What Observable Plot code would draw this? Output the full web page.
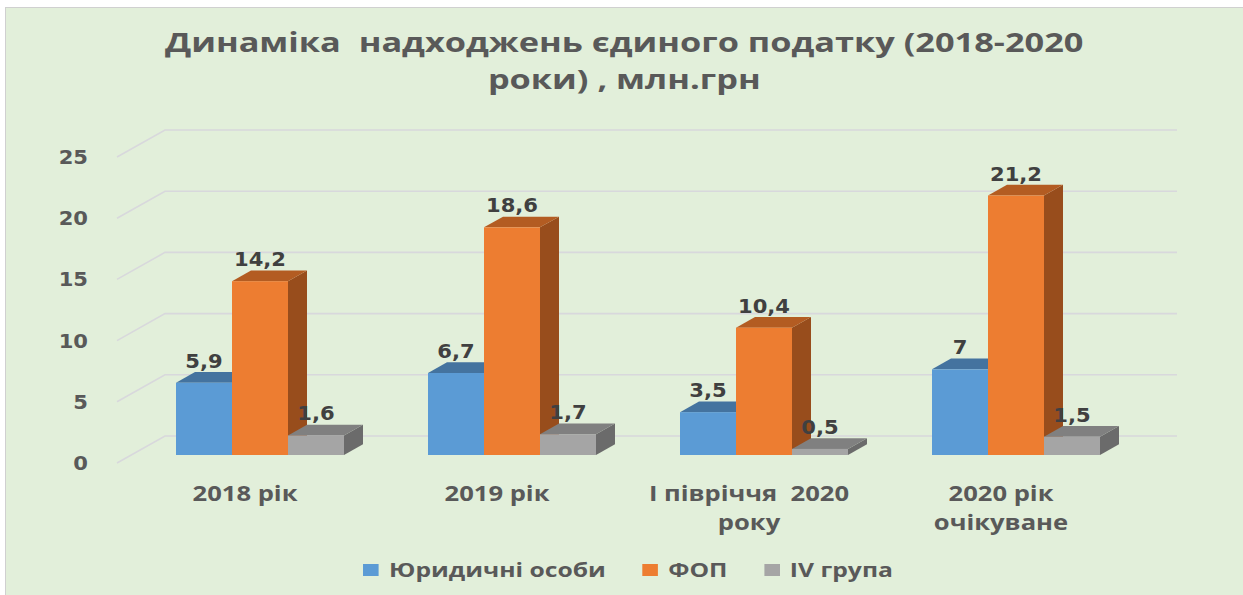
<!DOCTYPE html>
<html>
<head>
<meta charset="utf-8">
<script src="https://cdn.jsdelivr.net/npm/d3@7"></script>
<script src="https://cdn.jsdelivr.net/npm/@observablehq/plot@0.6"></script>
<style>
  html, body { margin: 0; padding: 0; }
  body { background: #ffffff; width: 1243px; height: 595px; overflow: hidden; position: relative; font-family: "Open Sans", sans-serif; }
  #frame { position: absolute; left: 5px; top: 7px; width: 1260px; height: 620px; background: #e2efda; border-left: 1.5px solid #d0d0d0; border-top: 1.5px solid #d0d0d0; }
  #title { position: absolute; left: 3px; top: 23px; width: 1243px; text-align: center; font-weight: 700; font-size: 27px; line-height: 37px; color: #595959; }
  #title span { display: inline-block; white-space: pre; transform-origin: center; }
  #chart { position: absolute; left: 0; top: 110px; }
  #legend { position: absolute; left: 6px; top: 560px; width: 1243px; text-align: center; font-weight: 700; font-size: 19px; line-height: 18px; color: #595959; }
  #legend .inner { display: inline-flex; align-items: center; white-space: nowrap; transform-origin: center; }
  #legend .sw { display: inline-block; width: 12px; height: 12px; margin-right: 8px; }
  #legend .item { display: inline-flex; align-items: center; margin-right: 28px; }
  #legend .item:last-child { margin-right: 0; }
</style>
</head>
<body>
<div id="frame"></div>
<div id="title"></div>
<div id="chart"></div>
<div id="legend"></div>
<script>
// ---------- data ----------
const categories = ["2018 рік", "2019 рік", "І півріччя 2020 року", "2020 рік очікуване"];
const categoryLines = [["2018 рік"], ["2019 рік"], ["І півріччя  2020", "року"], ["2020 рік", "очікуване"]];
const series = ["Юридичні особи", "ФОП", "IV група"];
const legalEntities = [5.9, 6.7, 3.5, 7];
const fop = [14.2, 18.6, 10.4, 21.2];
const groupIV = [1.6, 1.7, 0.5, 1.5];
const yTicks = [0, 5, 10, 15, 20, 25];
const titleLines = ["Динаміка  надходжень єдиного податку (2018-2020", "роки) , млн.грн"];

// ---------- styles ----------
const frontColors = ["#5b9bd5", "#ed7d31", "#a5a5a5"];
const topColors = ["#44739f", "#b35c22", "#808080"];
const sideColors = ["#3d6a94", "#984d1c", "#6b6b6b"];
const DX = 19, DY = 10.7;           // bar depth (oblique projection)
const FRONT_DX = -16, FRONT_DY = 8; // front plane offset from bar plane
const BACK_DX = 32, BACK_DY = -19;  // back plane offset from bar plane

const seriesValues = [legalEntities, fop, groupIV];
const rows = [];
categories.forEach((c, i) => {
  seriesValues.forEach((vals, j) => {
    rows.push({category: c, series: series[j], j, value: vals[i], label: String(vals[i]).replace(".", ",")});
  });
});

// ---------- text measurement for horizontal stretch ----------
const ctx = document.createElement("canvas").getContext("2d");
function textWidth(t, font) { ctx.font = font; return ctx.measureText(t).width; }
const kSans = 105 / textWidth("2018 рік", "bold 21px 'Open Sans'");
const kMono = 52 / textWidth("14,2", "bold 19px 'DejaVu Sans'");

function addText(g, x, y, text, {size, family, fill, anchor = "middle", k = 1}) {
  g.append("text")
    .attr("transform", `translate(${x},${y}) scale(${k},1)`)
    .attr("text-anchor", anchor)
    .attr("font-family", family)
    .attr("font-weight", 700)
    .attr("font-size", size)
    .attr("fill", fill)
    .text(text);
}

function renderGrid(index, scales) {
  const {x, y} = scales;
  const [r0, r1] = x.range();
  const g = d3.create("svg:g");
  for (const i of index) {
    const v = yTicks[i];
    const yy = y(v);
    g.append("path")
      .attr("d", `M${r0 + FRONT_DX},${yy + FRONT_DY}L${r0 + BACK_DX},${yy + BACK_DY}L${r1 + BACK_DX + 3},${yy + BACK_DY}`)
      .attr("fill", "none")
      .attr("stroke", "#d8d8dc")
      .attr("stroke-width", 1.6);
  }
  return g.node();
}

function renderYLabels(index, scales) {
  const {x, y} = scales;
  const [r0] = x.range();
  const g = d3.create("svg:g");
  for (const i of index) {
    const v = yTicks[i];
    addText(g, r0 - 45, y(v) + 15, String(v), {size: 19, family: "DejaVu Sans", fill: "#595959", anchor: "end", k: kMono});
  }
  return g.node();
}

function renderBars(index, scales) {
  const {x, y} = scales;
  const bw = x.bandwidth();
  const w = bw / series.length;
  const g = d3.create("svg:g");
  for (const i of index) {
    const r = rows[i];
    const x0 = x(r.category) + r.j * w, x1 = x0 + w;
    const y0 = y(0), yt = y(r.value);
    g.append("path")
      .attr("d", `M${x1},${yt}L${x1 + DX},${yt - DY}L${x1 + DX},${y0 - DY}L${x1},${y0}Z`)
      .attr("fill", sideColors[r.j]);
    g.append("path")
      .attr("d", `M${x0},${yt}L${x0 + DX},${yt - DY}L${x1 + DX},${yt - DY}L${x1},${yt}Z`)
      .attr("fill", topColors[r.j]);
    g.append("rect")
      .attr("x", x0).attr("y", yt).attr("width", w).attr("height", y0 - yt)
      .attr("fill", frontColors[r.j]);
  }
  return g.node();
}

function renderValueLabels(index, scales) {
  const {x, y} = scales;
  const bw = x.bandwidth();
  const w = bw / series.length;
  const g = d3.create("svg:g");
  for (const i of index) {
    const r = rows[i];
    const cx = x(r.category) + r.j * w + w / 2;
    addText(g, cx, y(r.value) - 15, r.label, {size: 19, family: "DejaVu Sans", fill: "#404040", k: kMono});
  }
  return g.node();
}

function renderCategoryLabels(index, scales) {
  const {x, y} = scales;
  const bw = x.bandwidth();
  const g = d3.create("svg:g");
  for (const i of index) {
    const cx = x(categories[i]) + bw / 2 - 15;
    categoryLines[i].forEach((line, li) => {
      addText(g, cx, y(0) + 46 + li * 29, line, {size: 21, family: "Open Sans", fill: "#595959", k: kSans});
    });
  }
  return g.node();
}

const chart = Plot.plot({
  width: 1243,
  height: 430,
  marginTop: 39,
  marginBottom: 85,
  marginLeft: 133,
  marginRight: 101,
  style: {background: "transparent", overflow: "visible"},
  x: {type: "band", domain: categories, paddingInner: 0.334, paddingOuter: 0.167, axis: null},
  y: {domain: [0, 25], axis: null},
  marks: [
    Plot.ruleY(yTicks, {y: d => d, render: renderGrid}),
    Plot.text(yTicks, {y: d => d, text: d => String(d), render: renderYLabels}),
    Plot.barY(rows, {x: "category", y1: 0, y2: "value", render: renderBars}),
    Plot.text(rows, {x: "category", y: "value", text: "label", render: renderValueLabels}),
    Plot.text(categories, {x: d => d, text: d => d, render: renderCategoryLabels})
  ]
});
document.getElementById("chart").appendChild(chart);

// ---------- title ----------
const titleEl = document.getElementById("title");
const spans = titleLines.map(t => {
  const s = document.createElement("span");
  s.textContent = t;
  titleEl.appendChild(s);
  titleEl.appendChild(document.createElement("br"));
  return s;
});
const kTitle = 918 / spans[0].offsetWidth;
spans.forEach(s => s.style.transform = `scaleX(${kTitle})`);

// ---------- legend ----------
const legendEl = document.getElementById("legend");
const inner = document.createElement("div");
inner.className = "inner";
series.forEach((name, j) => {
  const item = document.createElement("span");
  item.className = "item";
  const sw = document.createElement("span");
  sw.className = "sw";
  sw.style.background = frontColors[j];
  const tx = document.createElement("span");
  tx.textContent = name;
  item.appendChild(sw);
  item.appendChild(tx);
  inner.appendChild(item);
});
legendEl.appendChild(inner);
const kLegend = 530 / inner.offsetWidth;
inner.style.transform = `scaleX(${kLegend})`;
</script>
</body>
</html>
